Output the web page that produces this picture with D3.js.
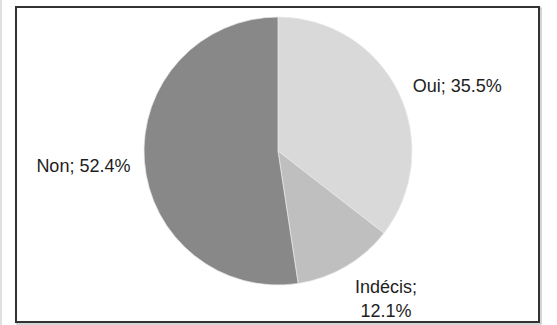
<!DOCTYPE html>
<html>
<head>
  <meta charset="utf-8">
  <script src="https://d3js.org/d3.v7.min.js"></script>
  <style>
    body { margin: 0px; background: #fff; }
    .label { font-family: "Liberation Sans", Arial, sans-serif; font-size: 18px; fill: #1e1e1e; }
  </style>
</head>
<body>
  <svg width="557" height="325"></svg>
  <script>
    // data
    const categories = ['Oui', 'Indécis', 'Non'];
    const values = [35.5, 12.1, 52.4];
    const labelLines = [['Oui; 35.5%'], ['Indécis;', '12.1%'], ['Non; 52.4%']];

    const colors = ['#d9d9d9', '#bfbfbf', '#888888'];
    const anchors = ['start', 'middle', 'end'];
    const offsets = [[0, 7], [32, 13], [2, 10]];

    const svg = d3.select('svg');
    const cx = 278, cy = 151, r = 134;

    // left strip + frame
    svg.append('rect').attr('x', 0).attr('y', 0).attr('width', 2).attr('height', 325).attr('fill', '#e0e0e0');
    svg.append('rect').attr('x', 17).attr('y', 8).attr('width', 524).attr('height', 316)
      .attr('fill', 'none').attr('stroke', '#aaa').attr('stroke-width', 1);
    svg.append('rect').attr('x', 16).attr('y', 7).attr('width', 523).attr('height', 315)
      .attr('fill', '#fff').attr('stroke', '#333').attr('stroke-width', 2);

    const pie = d3.pie().sort(null).value(d => d);
    const arcs = pie(values);
    const arc = d3.arc().innerRadius(0).outerRadius(r);

    const g = svg.append('g').attr('transform', `translate(${cx},${cy})`);

    g.selectAll('path').data(arcs)
      .enter().append('path')
      .attr('d', arc)
      .attr('fill', (d, i) => colors[i])
      .attr('stroke', '#e8e8e8')
      .attr('stroke-width', 0.75);

    // labels
    const labelR = 150;
    arcs.forEach((d, i) => {
      const a = (d.startAngle + d.endAngle) / 2;
      const x = labelR * Math.sin(a) + offsets[i][0];
      const y = -labelR * Math.cos(a) + offsets[i][1];
      const t = g.append('text')
        .attr('class', 'label')
        .attr('text-anchor', anchors[i])
        .attr('x', x)
        .attr('y', y);
      labelLines[i].forEach((line, j) => {
        t.append('tspan').attr('x', x).attr('dy', j === 0 ? 0 : 24).text(line);
      });
    });
  </script>
</body>
</html>
